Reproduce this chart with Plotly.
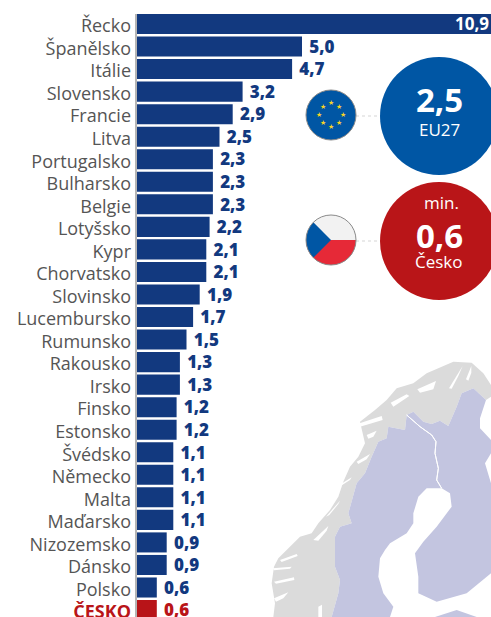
import math
import plotly.graph_objects as go

countries = ["Řecko","Španělsko","Itálie","Slovensko","Francie","Litva","Portugalsko","Bulharsko","Belgie","Lotyšsko","Kypr","Chorvatsko","Slovinsko","Lucembursko","Rumunsko","Rakousko","Irsko","Finsko","Estonsko","Švédsko","Německo","Malta","Maďarsko","Nizozemsko","Dánsko","Polsko","ČESKO"]
values = [10.9,5.0,4.7,3.2,2.9,2.5,2.3,2.3,2.3,2.2,2.1,2.1,1.9,1.7,1.5,1.3,1.3,1.2,1.2,1.1,1.1,1.1,1.1,0.9,0.9,0.6,0.6]

W, H = 491, 617
NAVY, RED, BLUE, CRED = "#12397f", "#b81418", "#0056a4", "#b91518"
GREY, LILAC = "#dbdbdb", "#c3c5e0"
FONT = "Open Sans"

def X(p): return p / W
def Y(p): return 1 - p / H
def Z(pts): return [(250 + a / 3, 350 + b / 3) for a, b in pts]
def poly(pts, fill, line=None, lw=0, layer="below"):
    d = "M" + " L".join(f"{X(x):.5f},{Y(y):.5f}" for x, y in pts) + " Z"
    return dict(type="path", xref="paper", yref="paper", path=d, fillcolor=fill,
                line=dict(color=line or fill, width=lw), layer=layer)
def circ(cx, cy, r, fill, line=None, lw=0):
    return dict(type="circle", xref="paper", yref="paper", x0=X(cx-r), x1=X(cx+r), y0=Y(cy+r), y1=Y(cy-r),
                fillcolor=fill, line=dict(color=line or fill, width=lw), layer="above")
def arc(cx, cy, r, a0, a1, n=30):
    return [(cx + r*math.cos(math.radians(a0+(a1-a0)*i/n)), cy + r*math.sin(math.radians(a0+(a1-a0)*i/n))) for i in range(n+1)]

# Map outlines (decorative background), in zoomed-crop coordinates
norway = [(70,801),(75,760),(65,700),(72,650),(85,625),(110,600),(150,560),(185,550),(205,520),(240,480),(265,440),(280,395),(300,350),(325,320),(345,280),(330,215),(375,180),(410,150),(440,115),(490,100),(530,70),(610,35),(665,38),(700,70),(723,105),(723,140),(708,150),(670,115),(635,130),(620,170),(595,228),(570,212),(545,222),(520,215),(490,185),(470,195),(465,240),(415,230),(410,265),(385,275),(365,320),(345,370),(320,400),(295,490),(305,520),(270,530),(255,560),(255,650),(270,690),(265,730),(245,801)]
sweden = [(245,801),(265,730),(270,690),(255,650),(255,560),(270,530),(305,520),(295,490),(320,400),(345,370),(365,320),(385,275),(410,265),(415,230),(465,240),(470,195),(510,230),(545,255),(558,275),(555,310),(565,355),(560,390),(575,415),(530,415),(505,440),(490,490),(490,520),(470,550),(420,580),(405,600),(390,625),(385,680),(400,730),(430,770),(420,801)]
finland = [(470,195),(490,185),(520,215),(545,222),(570,212),(595,228),(620,170),(635,130),(670,115),(708,150),(690,205),(690,235),(723,270),(723,310),(705,340),(723,400),(723,670),(650,730),(560,755),(505,730),(505,680),(495,610),(520,575),(560,530),(605,470),(600,430),(575,415),(560,390),(565,355),(555,310),(558,275),(545,255),(510,230)]
estonia = [(555,801),(620,780),(680,801)]
fjords = [
    [(68,655),(125,650),(120,656),(72,661)],
    [(72,695),(132,682),(133,690),(78,701)],
    [(72,745),(115,727),(100,745),(78,755)],
    [(90,630),(140,612),(143,618),(95,636)],
    [(190,570),(235,528),(230,542),(205,572)],
    [(205,770),(216,764),(216,801),(205,801)],
    [(228,500),(270,452),(265,462),(238,495)],
    [(268,405),(305,382),(300,390),(272,408)],
    [(320,335),(360,312),(350,328),(325,342)],
    [(322,222),(395,198),(398,210),(330,230)],
    [(350,255),(380,242),(370,260),(355,266)],
    [(422,158),(470,133),(478,138),(430,170)],
    [(502,118),(558,93),(550,118),(510,128)],
    [(597,115),(638,48),(625,78),(605,116)],
    [(648,88),(664,48),(664,68),(655,92)],
]

flag_red = arc(331, 240, 25, 0, 180)
flag_blue = [(331, 240)] + arc(331, 240, 25, 135, 225)

shapes = [
    poly(Z(norway), GREY),
    poly(Z(sweden), LILAC),
    poly(Z(finland), LILAC),
    poly(Z(estonia), LILAC),
] + [poly(Z(f), "white") for f in fjords] + [
    poly(Z([(470,195),(510,230),(545,255),(558,275),(555,310),(565,355),(560,390),(575,415)]) + Z([(575,415),(560,390),(565,355),(555,310),(558,275),(545,255),(510,230)]), "white", "white", 1),
    dict(type="line", xref="paper", yref="paper", x0=X(136), x1=X(136), y0=Y(14), y1=Y(617), line=dict(color="#b5b5b5", width=2), layer="above"),
    dict(type="line", xref="paper", yref="paper", x0=X(356), x1=X(381), y0=Y(116), y1=Y(116), line=dict(color="#d5d5d5", width=1, dash="dot")),
    dict(type="line", xref="paper", yref="paper", x0=X(356), x1=X(381), y0=Y(241), y1=Y(241), line=dict(color="#d5d5d5", width=1, dash="dot")),
    circ(439, 116, 59, BLUE),
    circ(439, 241, 59, CRED),
    circ(331, 115, 25, BLUE, "#8a8a8a", 1),
    circ(331, 240, 25, "#f2f2f2"),
    poly(flag_red, "#e62937", layer="above"),
    poly(flag_blue, BLUE, layer="above"),
    dict(type="circle", xref="paper", yref="paper", x0=X(306), x1=X(356), y0=Y(265), y1=Y(215),
         fillcolor="rgba(0,0,0,0)", line=dict(color="#8a8a8a", width=1), layer="above"),
]

rows = list(range(len(countries)))
px, pitch = 33.0, 22.54
nudge = 2 / pitch  # Open Sans sits slightly high in its line box

fig = go.Figure()
colors = [NAVY]*26 + [RED]
fig.add_bar(x=values, y=rows, orientation="h", marker=dict(color=colors, line_width=0),
            width=0.89, hoverinfo="skip", showlegend=False)

lab_colors = [NAVY]*26 + [CRED]
fmt = [f"{v:.1f}".replace(".", ",") for v in values]
fig.add_scatter(x=values[1:], y=[r + nudge for r in rows[1:]], mode="markers+text", text=fmt[1:], textposition="middle right",
                marker=dict(size=10, opacity=0),
                textfont=dict(family=FONT, size=17, color=lab_colors[1:], weight=800),
                hoverinfo="skip", showlegend=False, cliponaxis=False)

ticks = countries[:-1] + [f'<span style="color:{CRED}"><b>{countries[-1]}</b></span>']
fig.update_layout(
    width=W, height=H, margin=dict(l=0, r=0, t=0, b=0), autosize=False,
    plot_bgcolor="rgba(0,0,0,0)", paper_bgcolor="white", shapes=shapes, showlegend=False,
    xaxis=dict(domain=[X(137), 1], range=[0, (W-137)/px], visible=False, fixedrange=True, automargin=False),
    yaxis=dict(domain=[0, Y(13.0)], range=[(617-24)/pitch, -11/pitch], autorange=False, fixedrange=True, automargin=False,
               showline=False, showgrid=False, zeroline=False, ticks="", tickfont=dict(family=FONT, size=18, color="#555555"),
               tickmode="array", tickvals=[r + nudge for r in rows], ticktext=ticks, ticklabelstandoff=5,
               ticklabeloverflow="allow"),
)

anns = [
    dict(x=X(439), y=Y(99), text="<b>2,5</b>", font=dict(size=33, color="white", family=FONT)),
    dict(x=X(439), y=Y(130), text="EU27", font=dict(size=17, color="white", family=FONT)),
    dict(x=X(441), y=Y(203), text="min.", font=dict(size=17, color="white", family=FONT)),
    dict(x=X(439), y=Y(235), text="<b>0,6</b>", font=dict(size=33, color="white", family=FONT)),
    dict(x=X(439), y=Y(262), text="Česko", font=dict(size=17, color="white", family=FONT)),
    dict(x=X(491), y=Y(24), text="<b>10,9</b>", xanchor="right", font=dict(size=17, color="white", family=FONT)),
]
for i in range(8):
    a = math.radians(i * 45)
    anns.append(dict(x=X(331 + 12*math.sin(a)), y=Y(115 - 12*math.cos(a)), text="★",
                     font=dict(size=7, color="#f5d327", family="DejaVu Sans")))
for a in anns:
    a.update(xref="paper", yref="paper", showarrow=False, xanchor=a.get("xanchor", "center"), yanchor="middle")
fig.update_layout(annotations=anns)

fig.write_html("out.html", config=dict(displayModeBar=False), post_script="document.body.style.margin='0';")
